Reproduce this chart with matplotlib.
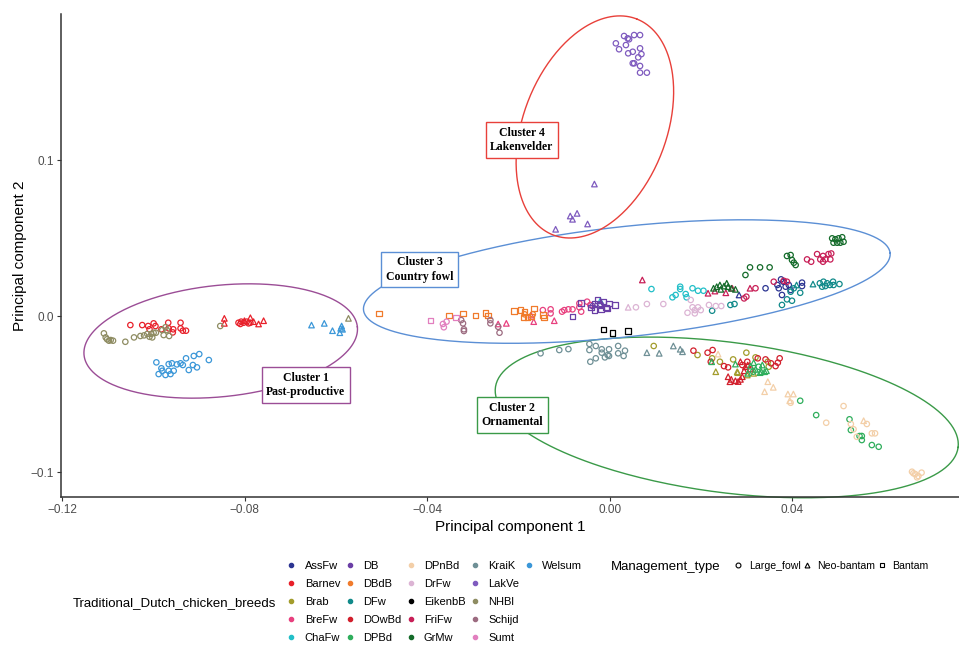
import matplotlib
matplotlib.use('Agg')
import matplotlib.pyplot as plt
import numpy as np
from matplotlib.lines import Line2D

plt.rcParams['font.family'] = ['Liberation Sans', 'DejaVu Sans']

# PCA scores per breed: (PC1, PC2, management type) L=Large_fowl N=Neo-bantam B=Bantam
AssFw = [(0.0375, 0.0235, 'L'), (0.0367, 0.0199, 'L'), (0.0370, 0.0178, 'L'), (0.0385, 0.0188, 'L'),
         (0.0392, 0.0199, 'L'), (0.0377, 0.0135, 'L'), (0.0421, 0.0214, 'L'), (0.0421, 0.0192, 'L'),
         (0.0341, 0.0178, 'L'), (0.0396, 0.0167, 'L'), (0.0380, 0.0220, 'L'), (0.0283, 0.0135, 'N')]
Barnev = [(-0.1051, -0.0058, 'L'), (-0.1025, -0.0058, 'L'), (-0.1012, -0.0064, 'L'), (-0.1000, -0.0047, 'L'),
          (-0.0996, -0.0064, 'L'), (-0.1009, -0.0085, 'L'), (-0.0983, -0.0085, 'L'), (-0.0968, -0.0043, 'L'),
          (-0.0967, -0.0079, 'L'), (-0.0957, -0.0085, 'L'), (-0.0941, -0.0043, 'L'), (-0.0941, -0.0079, 'L'),
          (-0.0958, -0.0105, 'L'), (-0.0936, -0.0094, 'L'), (-0.0929, -0.0094, 'L'),
          (-0.0845, -0.0015, 'N'), (-0.0845, -0.0047, 'N'), (-0.0788, -0.0011, 'N'), (-0.0781, -0.0036, 'N'),
          (-0.0770, -0.0051, 'N'), (-0.0759, -0.0030, 'N'), (-0.0801, -0.0030, 'N'),
          (-0.0814, -0.0043, 'L'), (-0.0808, -0.0036, 'L'), (-0.0803, -0.0043, 'L'), (-0.0796, -0.0036, 'L'),
          (-0.0792, -0.0047, 'L'), (-0.0810, -0.0051, 'L'), (-0.0788, -0.0043, 'L')]
Brab = [(0.0096, -0.0192, 'L'), (0.0192, -0.0250, 'L'), (0.0224, -0.0271, 'L'), (0.0241, -0.0293, 'L'),
        (0.0270, -0.0278, 'L'), (0.0299, -0.0235, 'L'), (0.0319, -0.0265, 'L'), (0.0346, -0.0293, 'L'),
        (0.0348, -0.0325, 'L'), (0.0232, -0.0357, 'N'), (0.0279, -0.0357, 'N'), (0.0301, -0.0378, 'N'),
        (0.0315, -0.0367, 'N'), (0.0280, -0.0363, 'N')]
BreFw = [(-0.0245, -0.0051, 'N'), (-0.0227, -0.0047, 'N'), (-0.0167, -0.0036, 'N'), (-0.0122, -0.0030, 'N'),
         (-0.0173, 0.0006, 'N'), (-0.0130, 0.0043, 'L'), (-0.0130, 0.0017, 'L'), (-0.0105, 0.0028, 'L'),
         (-0.0091, 0.0043, 'L'), (-0.0082, 0.0043, 'L'), (-0.0067, 0.0056, 'L'), (-0.0063, 0.0028, 'L'),
         (-0.0050, 0.0092, 'L'), (-0.0043, 0.0071, 'L'), (-0.0067, 0.0081, 'L'), (-0.0100, 0.0038, 'L'),
         (-0.0147, 0.0038, 'L')]
ChaFw = [(0.0091, 0.0173, 'L'), (0.0137, 0.0120, 'L'), (0.0144, 0.0135, 'L'), (0.0154, 0.0188, 'L'),
         (0.0154, 0.0173, 'L'), (0.0166, 0.0141, 'L'), (0.0168, 0.0120, 'L'), (0.0181, 0.0178, 'L'),
         (0.0193, 0.0162, 'L'), (0.0205, 0.0162, 'L'), (-0.0021, 0.0098, 'N')]
DB = [(-0.0063, 0.0085, 'B'), (-0.0042, 0.0056, 'B'), (-0.0034, 0.0081, 'B'), (-0.0023, 0.0071, 'B'),
      (-0.0009, 0.0056, 'B'), (-0.0002, 0.0081, 'B'), (0.0011, 0.0071, 'B'), (-0.0034, 0.0038, 'B'),
      (-0.0020, 0.0043, 'B'), (-0.0007, 0.0049, 'B'), (-0.0082, -0.0004, 'B'), (-0.0027, 0.0103, 'B'),
      (-0.0014, 0.0092, 'B'), (-0.0038, 0.0064, 'L'), (-0.0021, 0.0077, 'L')]
DBdB = [(-0.0506, 0.0017, 'B'), (-0.0353, 0.0002, 'B'), (-0.0322, 0.0017, 'B'), (-0.0295, 0.0002, 'B'),
        (-0.0273, 0.0021, 'B'), (-0.0267, 0.0002, 'B'), (-0.0210, 0.0034, 'B'), (-0.0196, 0.0038, 'B'),
        (-0.0187, 0.0028, 'B'), (-0.0167, 0.0049, 'B'), (-0.0189, -0.0008, 'B'), (-0.0181, -0.0008, 'B'),
        (-0.0173, -0.0004, 'B'), (-0.0147, 0.0006, 'B'), (-0.0145, -0.0008, 'B'),
        (-0.0169, 0.0011, 'L'), (-0.0187, 0.0011, 'L')]
DFw = [(0.0224, 0.0034, 'L'), (0.0264, 0.0071, 'L'), (0.0273, 0.0077, 'L'), (0.0377, 0.0071, 'L'),
       (0.0388, 0.0107, 'L'), (0.0399, 0.0098, 'L'), (0.0396, 0.0156, 'L'), (0.0403, 0.0178, 'L'),
       (0.0417, 0.0149, 'L'), (0.0460, 0.0210, 'L'), (0.0468, 0.0220, 'L'), (0.0476, 0.0210, 'L'),
       (0.0482, 0.0199, 'L'), (0.0472, 0.0192, 'L'), (0.0489, 0.0220, 'L'), (0.0490, 0.0199, 'L'),
       (0.0503, 0.0205, 'L'), (0.0465, 0.0188, 'L'), (0.0409, 0.0199, 'N'), (0.0445, 0.0205, 'N')]
DOwBd = [(0.0183, -0.0222, 'L'), (0.0214, -0.0235, 'L'), (0.0221, -0.0293, 'L'), (0.0250, -0.0321, 'L'),
         (0.0259, -0.0329, 'L'), (0.0290, -0.0314, 'L'), (0.0301, -0.0293, 'L'), (0.0324, -0.0271, 'L'),
         (0.0341, -0.0278, 'L'), (0.0353, -0.0303, 'L'), (0.0363, -0.0321, 'L'), (0.0368, -0.0299, 'L'),
         (0.0372, -0.0271, 'L'), (0.0308, -0.0342, 'L'), (0.0225, -0.0218, 'L'),
         (0.0263, -0.0421, 'N'), (0.0266, -0.0406, 'N'), (0.0286, -0.0406, 'N'), (0.0290, -0.0389, 'N'),
         (0.0294, -0.0351, 'N'), (0.0302, -0.0314, 'N'), (0.0286, -0.0293, 'N'), (0.0259, -0.0389, 'N'),
         (0.0297, -0.0325, 'N'), (0.0275, -0.0415, 'N'), (0.0281, -0.0420, 'N')]
DPBd = [(0.0223, -0.0293, 'N'), (0.0275, -0.0308, 'N'), (0.0308, -0.0321, 'N'), (0.0319, -0.0342, 'N'),
        (0.0329, -0.0363, 'N'), (0.0343, -0.0351, 'N'), (0.0334, -0.0314, 'N'), (0.0315, -0.0299, 'N'),
        (0.0302, -0.0367, 'N'), (0.0332, -0.0357, 'N'), (0.0339, -0.0357, 'N'),
        (0.0314, -0.0357, 'L'), (0.0326, -0.0325, 'L'), (0.0417, -0.0543, 'L'), (0.0452, -0.0635, 'L'),
        (0.0525, -0.0662, 'L'), (0.0528, -0.0731, 'L'), (0.0547, -0.0769, 'L'), (0.0552, -0.0795, 'L'),
        (0.0552, -0.0769, 'L'), (0.0574, -0.0827, 'L'), (0.0589, -0.0838, 'L')]
DPnBd = [(0.0237, -0.0244, 'N'), (0.0346, -0.0421, 'N'), (0.0339, -0.0485, 'N'), (0.0358, -0.0457, 'N'),
         (0.0390, -0.0500, 'N'), (0.0402, -0.0500, 'N'), (0.0394, -0.0543, 'N'), (0.0556, -0.0671, 'N'),
         (0.0396, -0.0556, 'L'), (0.0512, -0.0577, 'L'), (0.0474, -0.0684, 'L'), (0.0528, -0.0692, 'L'),
         (0.0563, -0.0692, 'L'), (0.0534, -0.0726, 'L'), (0.0574, -0.0752, 'L'), (0.0581, -0.0752, 'L'),
         (0.0541, -0.0774, 'L'), (0.0662, -0.0998, 'L'), (0.0669, -0.1013, 'L'), (0.0676, -0.1026, 'L'),
         (0.0683, -0.1004, 'L'), (0.0673, -0.1034, 'L'), (0.0665, -0.1008, 'L')]
DrFw = [(0.0040, 0.0056, 'N'), (0.0057, 0.0056, 'L'), (0.0081, 0.0077, 'L'), (0.0117, 0.0077, 'L'),
        (0.0177, 0.0103, 'L'), (0.0181, 0.0056, 'L'), (0.0170, 0.0021, 'L'), (0.0186, 0.0038, 'L'),
        (0.0193, 0.0056, 'L'), (0.0199, 0.0038, 'L'), (0.0186, 0.0017, 'L'), (0.0217, 0.0071, 'L'),
        (0.0232, 0.0064, 'L'), (0.0244, 0.0064, 'L')]
EikenbB = [(-0.0014, -0.0085, 'B'), (0.0006, -0.0107, 'B'), (0.0039, -0.0096, 'B')]
FriFw = [(0.0215, 0.0146, 'N'), (0.0230, 0.0160, 'N'), (0.0254, 0.0149, 'N'), (0.0268, 0.0178, 'N'),
         (0.0307, 0.0178, 'N'), (0.0071, 0.0231, 'N'),
         (0.0294, 0.0113, 'L'), (0.0299, 0.0124, 'L'), (0.0319, 0.0178, 'L'), (0.0359, 0.0220, 'L'),
         (0.0381, 0.0226, 'L'), (0.0388, 0.0220, 'L'), (0.0432, 0.0363, 'L'), (0.0441, 0.0348, 'L'),
         (0.0454, 0.0397, 'L'), (0.0461, 0.0363, 'L'), (0.0467, 0.0385, 'L'), (0.0472, 0.0363, 'L'),
         (0.0479, 0.0397, 'L'), (0.0485, 0.0401, 'L'), (0.0483, 0.0363, 'L'), (0.0467, 0.0348, 'L')]
GrMw = [(0.0227, 0.0178, 'N'), (0.0234, 0.0188, 'N'), (0.0241, 0.0199, 'N'), (0.0250, 0.0192, 'N'),
        (0.0256, 0.0210, 'N'), (0.0259, 0.0188, 'N'), (0.0266, 0.0178, 'N'), (0.0275, 0.0171, 'N'),
        (0.0243, 0.0171, 'N'),
        (0.0297, 0.0263, 'L'), (0.0307, 0.0312, 'L'), (0.0329, 0.0312, 'L'), (0.0350, 0.0312, 'L'),
        (0.0388, 0.0385, 'L'), (0.0396, 0.0391, 'L'), (0.0399, 0.0359, 'L'), (0.0403, 0.0342, 'L'),
        (0.0407, 0.0327, 'L'), (0.0487, 0.0498, 'L'), (0.0494, 0.0492, 'L'), (0.0501, 0.0498, 'L'),
        (0.0509, 0.0505, 'L'), (0.0490, 0.0470, 'L'), (0.0498, 0.0470, 'L'), (0.0505, 0.0470, 'L'),
        (0.0512, 0.0476, 'L')]
KraiK = [(-0.0152, -0.0239, 'L'), (-0.0111, -0.0218, 'L'), (-0.0091, -0.0212, 'L'), (-0.0045, -0.0179, 'L'),
         (-0.0031, -0.0192, 'L'), (-0.0045, -0.0218, 'L'), (-0.0018, -0.0213, 'L'), (-0.0018, -0.0235, 'L'),
         (-0.0002, -0.0213, 'L'), (0.0018, -0.0192, 'L'), (0.0033, -0.0222, 'L'), (0.0018, -0.0239, 'L'),
         (0.0030, -0.0256, 'L'), (-0.0002, -0.0256, 'L'), (-0.0011, -0.0265, 'L'), (-0.0031, -0.0271, 'L'),
         (-0.0043, -0.0293, 'L'), (-0.0005, -0.0250, 'L'),
         (0.0081, -0.0235, 'N'), (0.0108, -0.0239, 'N'), (0.0139, -0.0192, 'N'), (0.0154, -0.0213, 'N'),
         (0.0159, -0.0229, 'N')]
LakVe = [(0.0031, 0.1795, 'L'), (0.0039, 0.1780, 'L'), (0.0042, 0.1774, 'L'), (0.0053, 0.1801, 'L'),
         (0.0066, 0.1801, 'L'), (0.0013, 0.1748, 'L'), (0.0020, 0.1710, 'L'), (0.0035, 0.1737, 'L'),
         (0.0040, 0.1684, 'L'), (0.0050, 0.1694, 'L'), (0.0066, 0.1716, 'L'), (0.0069, 0.1679, 'L'),
         (0.0062, 0.1658, 'L'), (0.0050, 0.1620, 'L'), (0.0053, 0.1620, 'L'), (0.0066, 0.1603, 'L'),
         (0.0066, 0.1560, 'L'), (0.0081, 0.1560, 'L'),
         (-0.0034, 0.0846, 'N'), (-0.0087, 0.0641, 'N'), (-0.0072, 0.0658, 'N'), (-0.0082, 0.0620, 'N'),
         (-0.0049, 0.0590, 'N'), (-0.0119, 0.0556, 'N')]
NHBl = [(-0.1109, -0.0111, 'L'), (-0.1105, -0.0137, 'L'), (-0.1102, -0.0149, 'L'), (-0.1098, -0.0158, 'L'),
        (-0.1094, -0.0154, 'L'), (-0.1089, -0.0158, 'L'), (-0.1062, -0.0165, 'L'), (-0.1043, -0.0137, 'L'),
        (-0.1029, -0.0128, 'L'), (-0.1021, -0.0124, 'L'), (-0.1014, -0.0115, 'L'), (-0.1009, -0.0133, 'L'),
        (-0.1005, -0.0115, 'L'), (-0.1000, -0.0107, 'L'), (-0.0995, -0.0107, 'L'), (-0.1003, -0.0137, 'L'),
        (-0.0981, -0.0090, 'L'), (-0.0978, -0.0122, 'L'), (-0.0971, -0.0090, 'L'), (-0.0966, -0.0128, 'L'),
        (-0.0974, -0.0072, 'L'), (-0.0854, -0.0064, 'L'), (-0.0573, -0.0015, 'N')]
Schijd = [(-0.0326, -0.0026, 'L'), (-0.0322, -0.0047, 'L'), (-0.0320, -0.0085, 'L'), (-0.0320, -0.0096, 'L'),
          (-0.0262, -0.0026, 'L'), (-0.0262, -0.0047, 'L'), (-0.0242, -0.0107, 'L'), (-0.0245, -0.0069, 'L')]
Sumt = [(-0.0393, -0.0030, 'B'), (-0.0366, -0.0051, 'L'), (-0.0364, -0.0072, 'L'), (-0.0358, -0.0036, 'L'),
        (-0.0337, -0.0008, 'B')]
Welsum = [(-0.0994, -0.0297, 'L'), (-0.0983, -0.0335, 'L'), (-0.0989, -0.0372, 'L'), (-0.0981, -0.0351, 'L'),
          (-0.0974, -0.0378, 'L'), (-0.0967, -0.0308, 'L'), (-0.0960, -0.0303, 'L'), (-0.0949, -0.0310, 'L'),
          (-0.0941, -0.0303, 'L'), (-0.0936, -0.0314, 'L'), (-0.0929, -0.0271, 'L'), (-0.0912, -0.0256, 'L'),
          (-0.0900, -0.0244, 'L'), (-0.0914, -0.0314, 'L'), (-0.0905, -0.0329, 'L'), (-0.0923, -0.0346, 'L'),
          (-0.0967, -0.0351, 'L'), (-0.0956, -0.0351, 'L'), (-0.0879, -0.0282, 'L'), (-0.0963, -0.0372, 'L'),
          (-0.0654, -0.0058, 'N'), (-0.0626, -0.0047, 'N'), (-0.0608, -0.0094, 'N'), (-0.0590, -0.0079, 'N'),
          (-0.0588, -0.0064, 'N'), (-0.0592, -0.0107, 'N'), (-0.0586, -0.0085, 'N')]

breed_names = ['AssFw', 'Barnev', 'Brab', 'BreFw', 'ChaFw', 'DB', 'DBdB', 'DFw', 'DOwBd', 'DPBd',
               'DPnBd', 'DrFw', 'EikenbB', 'FriFw', 'GrMw', 'KraiK', 'LakVe', 'NHBl', 'Schijd',
               'Sumt', 'Welsum']
breed_data = [AssFw, Barnev, Brab, BreFw, ChaFw, DB, DBdB, DFw, DOwBd, DPBd, DPnBd, DrFw, EikenbB,
              FriFw, GrMw, KraiK, LakVe, NHBl, Schijd, Sumt, Welsum]
breed_colors = ['#2c3592', '#e8202a', '#a39c2c', '#e8407f', '#22bfc8', '#6b3fa6', '#f07b2c', '#118a8a',
                '#d21f2c', '#2fae5c', '#f3cfa8', '#dcb4d4', '#000000', '#c81f57', '#146b2a', '#6f9096',
                '#7f5bbf', '#8e8c62', '#9c6b80', '#e27fbf', '#3b97d8']

mgmt_codes = ['L', 'N', 'B']
mgmt_names = ['Large_fowl', 'Neo-bantam', 'Bantam']
mgmt_markers = ['o', '^', 's']

# cluster ellipses: centre, two conjugate semi-axis vectors (data units)
cluster_labels = ['Cluster 1\nPast-productive', 'Cluster 2\nOrnamental', 'Cluster 3\nCountry fowl',
                  'Cluster 4\nLakenvelder']
cluster_colors = ['#9b4d96', '#3a9a48', '#5b8fd5', '#e8403a']
ell_center = [(-0.0853, -0.0160), (0.0256, -0.0650), (0.0037, 0.0221), (-0.0033, 0.1212)]
ell_vec_a = [(0.02995, 0.0091), (0.0507, -0.0192), (0.0577, 0.0183), (0.00918, 0.0692)]
ell_vec_b = [(0.00127, -0.0355), (-0.00210, -0.0478), (0.00129, -0.0351), (0.01462, -0.0167)]
label_pos = [(-0.0667, -0.0442), (-0.0214, -0.0635), (-0.0417, 0.0298), (-0.0193, 0.1128)]

xticks = [-0.12, -0.08, -0.04, 0.00, 0.04]
xticklabels = ['\u22120.12', '\u22120.08', '\u22120.04', '0.00', '0.04']
yticks = [-0.1, 0.0, 0.1]
yticklabels = ['\u22120.1', '0.0', '0.1']

fig = plt.figure(figsize=(9.59, 6.45), dpi=100)
ax = fig.add_axes([61/959, 148/645, 898/959, 483/645])

for name, pts, col in zip(breed_names, breed_data, breed_colors):
    for code, mk in zip(mgmt_codes, mgmt_markers):
        sel = [p for p in pts if p[2] == code]
        if not sel:
            continue
        xs = [p[0] for p in sel]
        ys = [p[1] for p in sel]
        ax.scatter(xs, ys, marker=mk, s=15 if mk == 'o' else 16, facecolors='none',
                   edgecolors=col, linewidths=0.9, zorder=3)

t = np.linspace(0, 2*np.pi, 300)
for c, a, b, col in zip(ell_center, ell_vec_a, ell_vec_b, cluster_colors):
    ex = c[0] + a[0]*np.cos(t) + b[0]*np.sin(t)
    ey = c[1] + a[1]*np.cos(t) + b[1]*np.sin(t)
    ax.plot(ex, ey, color=col, lw=1.0, zorder=2, clip_on=False)

for lab, pos, col in zip(cluster_labels, label_pos, cluster_colors):
    ax.text(pos[0], pos[1], lab, ha='center', va='center', fontsize=8.5, fontweight='bold',
            family='Liberation Serif', linespacing=1.3, zorder=5,
            bbox=dict(boxstyle='square,pad=0.38', fc='white', ec=col, lw=1.0))

ax.set_xlim(-0.1203, 0.0765)
ax.set_ylim(-0.1160, 0.1936)
ax.set_xticks(xticks)
ax.set_xticklabels(xticklabels)
ax.set_yticks(yticks)
ax.set_yticklabels(yticklabels)
ax.tick_params(length=3, width=0.8, color='#333333', labelcolor='#4d4d4d', labelsize=8.5, pad=2)
for s in ['top', 'right']:
    ax.spines[s].set_visible(False)
for s in ['left', 'bottom']:
    ax.spines[s].set_color('#333333')
    ax.spines[s].set_linewidth(1.1)
ax.set_xlabel('Principal component 1', fontsize=11, labelpad=3)
ax.set_ylabel('Principal component 2', fontsize=11, labelpad=3)

# breed legend (5 rows, column-wise)
handles = [Line2D([], [], ls='', marker='o', ms=3, color=c) for c in breed_colors]
labels = list(breed_names)
for _ in range(4):
    handles.append(Line2D([], [], ls='', marker=''))
    labels.append('')
fig.legend(handles, labels, ncol=5, loc='upper left', bbox_to_anchor=(288/959, 1 - 561/645),
           frameon=False, fontsize=8, handlelength=0.6, handletextpad=0.9, columnspacing=0.55,
           labelspacing=0.72, borderpad=0, borderaxespad=0)
fig.text(73/959, 1 - 603/645, 'Traditional_Dutch_chicken_breeds', fontsize=9.5, va='center', ha='left')

mh = [Line2D([], [], ls='', marker=m, ms=3.5, mfc='none', mec='black', mew=0.8) for m in mgmt_markers]
fig.legend(mh, mgmt_names, ncol=3, loc='upper left', bbox_to_anchor=(735/959, 1 - 561/645),
           frameon=False, fontsize=7.6, handlelength=0.6, handletextpad=0.7, columnspacing=0.3,
           borderpad=0, borderaxespad=0)
fig.text(611/959, 1 - 567/645, 'Management_type', fontsize=9.5, va='center', ha='left')

fig.savefig('out.png', dpi=100)
